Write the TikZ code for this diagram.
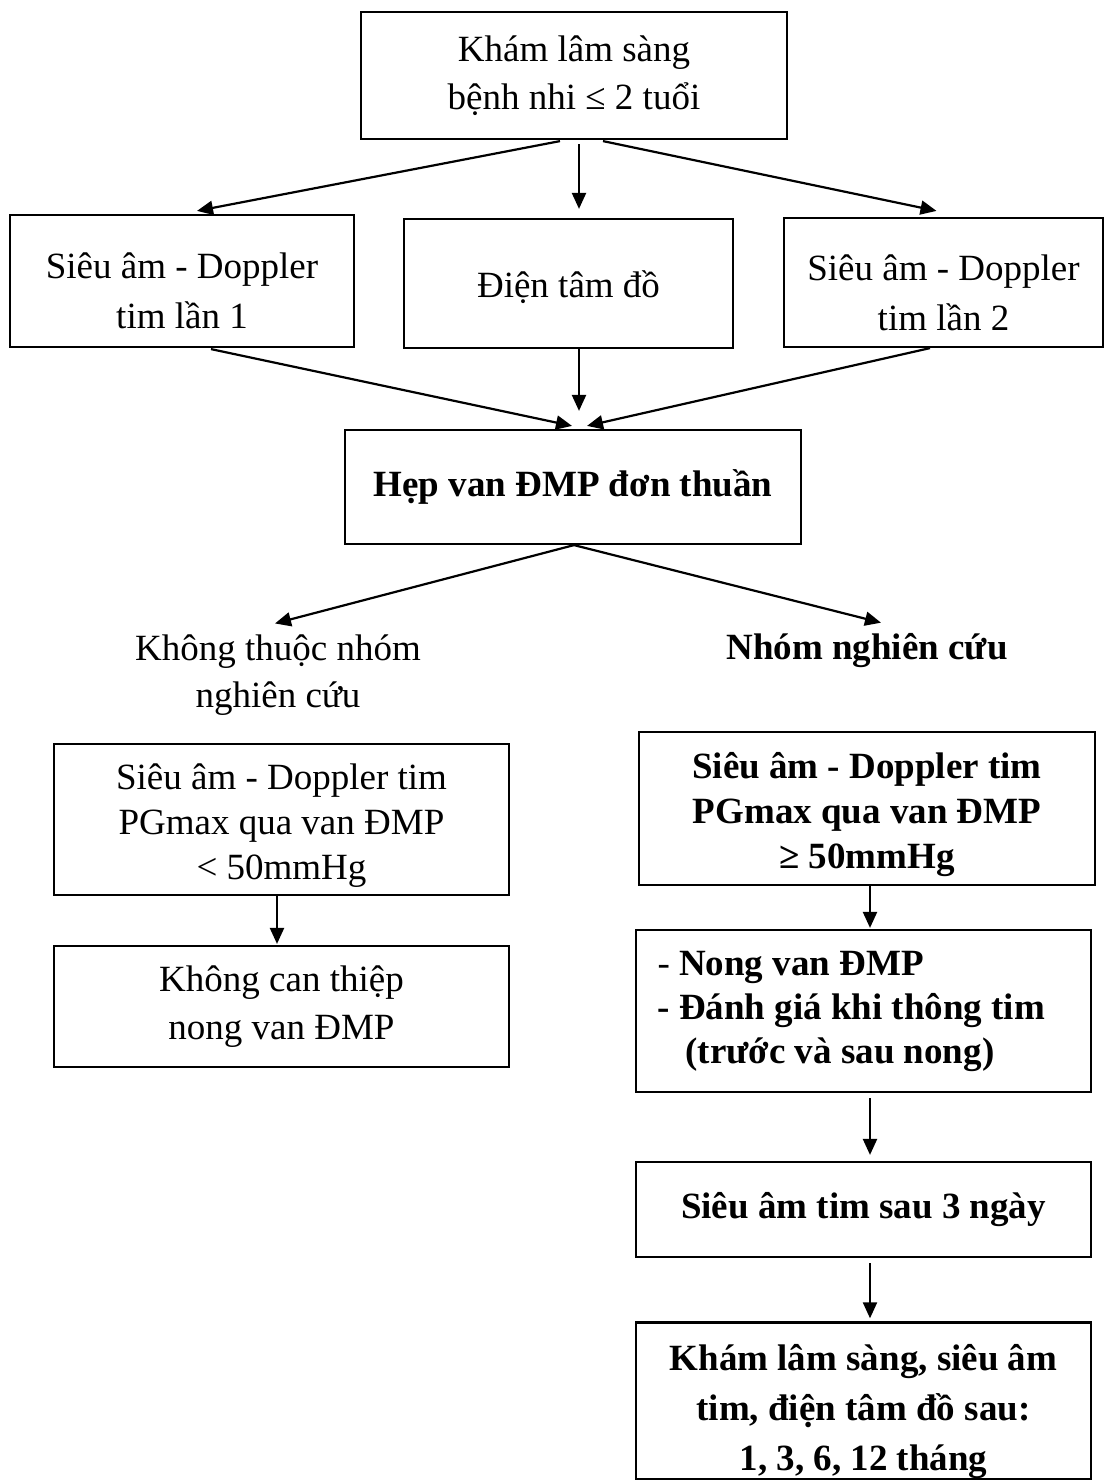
\documentclass[tikz,border=0pt]{standalone}
\usepackage{fontspec}
\setmainfont{Liberation Serif}
\usetikzlibrary{arrows.meta,calc}
\newcommand\liftdown[1]{\rule{0pt}{#1}}
\begin{document}
\begin{tikzpicture}[x=1pt,y=-1pt,
  box/.style={draw,line width=2.2pt,inner sep=0pt,align=center,font=\fontsize{37}{48}\selectfont},
  bbox/.style={box,font=\fontsize{37}{45}\selectfont\bfseries},
  plain/.style={inner sep=0pt,align=center,font=\fontsize{37}{47}\selectfont},
  arr/.style={line width=2.2pt,-{Triangle[length=16pt,width=14pt]}}]
\useasboundingbox (0,0) rectangle (1105,1481);
% top level
\node[box,minimum width=426pt,minimum height=127pt] (top) at (574,75.5) {Khám lâm sàng\\bệnh nhi ≤ 2 tuổi};
\node[box,minimum width=344pt,minimum height=132pt,font=\fontsize{37}{50}\selectfont] (l1) at (182,281) {\liftdown{46pt}Siêu âm - Doppler\\tim lần 1};
\node[box,minimum width=329pt,minimum height=129pt] (mid) at (568.5,283.5) {\liftdown{34pt}Điện tâm đồ};
\node[box,minimum width=319pt,minimum height=129pt,font=\fontsize{37}{50}\selectfont] (r1) at (943.5,282.5) {\liftdown{46pt}Siêu âm - Doppler\\tim lần 2};
\node[bbox,minimum width=456pt,minimum height=114pt] (hep) at (573,487) {Hẹp van ĐMP đơn thuần};
% branch labels
\node[plain] (nl) at (278,675) {Không thuộc nhóm\\nghiên cứu};
\node[plain,font=\fontsize{37}{47}\selectfont\bfseries] (ng) at (867,651) {Nhóm nghiên cứu};
% left branch
\node[box,minimum width=455pt,minimum height=151pt,font=\fontsize{37}{45}\selectfont] (la) at (281.5,819.5) {\liftdown{38pt}Siêu âm - Doppler tim\\PGmax qua van ĐMP\\< 50mmHg};
\node[box,minimum width=455pt,minimum height=121pt] (lb) at (281.5,1006.5) {Không can thiệp\\nong van ĐMP};
% right branch
\node[bbox,minimum width=456pt,minimum height=153pt] (ra) at (867,808.5) {\liftdown{38pt}Siêu âm - Doppler tim\\PGmax qua van ĐMP\\≥ 50mmHg};
\node[bbox,text width=412pt,inner xsep=21.5pt,inner ysep=0pt,minimum height=162pt,align=flush left,font=\fontsize{37}{44}\selectfont\bfseries] (rb) at (863.5,1011) {{\mdseries -} Nong van ĐMP\\- Đánh giá khi thông tim\\\hspace*{28pt}(trước và sau nong)};
\node[bbox,minimum width=455pt,minimum height=95pt] (rc) at (863.5,1209.5) {Siêu âm tim sau 3 ngày};
\node[bbox,minimum width=455pt,minimum height=155pt,font=\fontsize{37}{50}\selectfont\bfseries] (rd) at (863.5,1400.5) {\liftdown{48pt}Khám lâm sàng, siêu âm\\tim, điện tâm đồ sau:\\1, 3, 6, 12 tháng};
% arrows from top
\coordinate (tmid) at ($(top.south)+(5,4)$);
\draw[arr] ($(top.south)+(-14,1)$) -- ($(l1.north)+(15,-3)$);
\draw[arr,shorten >=9pt] (tmid) -- (tmid |- mid.north);
\draw[arr] ($(top.south)+(29,1)$) -- ($(r1.north)+(-7,-6)$);
% arrows to hep
\coordinate (mb) at ($(mid.south)+(10.5,0)$);
\draw[arr] ($(l1.south)+(29,1)$) -- ($(hep.north)+(-1,-3)$);
\draw[arr,shorten >=18pt] (mb) -- (mb |- hep.north);
\draw[arr] ($(r1.south)+(-13.5,0)$) -- ($(hep.north)+(14,-3)$);
% arrows from hep
\draw[arr] ($(hep.south)+(1,0)$) -- ($(nl.north)+(-3,-11)$);
\draw[arr] ($(hep.south)+(1,0)$) -- ($(ng.north)+(14,-11)$);
% left chain
\coordinate (lx) at ($(la.south)+(-4.5,0)$);
\draw[arr,shorten >=1pt] (lx) -- (lx |- lb.north);
% right chain
\coordinate (rx) at ($(ra.south)+(3,0)$);
\draw[arr,shorten >=1pt] (rx) -- (rx |- rb.north);
\draw[arr,shorten <=5pt,shorten >=6pt] (rx |- rb.south) -- (rx |- rc.north);
\draw[arr,shorten <=5pt,shorten >=3pt] (rx |- rc.south) -- (rx |- rd.north);
\end{tikzpicture}
\end{document}
